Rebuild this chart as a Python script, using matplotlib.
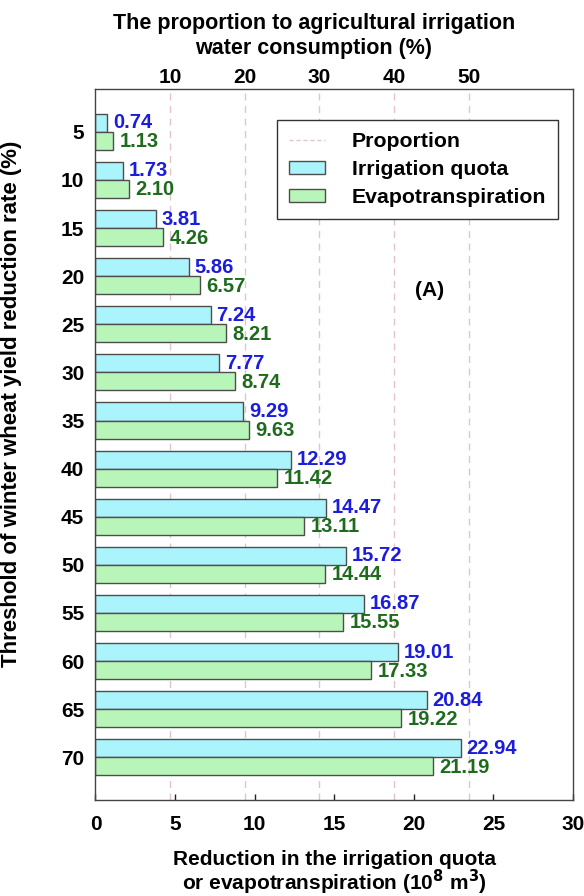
import matplotlib
matplotlib.use("Agg")
import matplotlib.pyplot as plt
from matplotlib.patches import Patch
from matplotlib.lines import Line2D
import numpy as np

plt.rcParams['font.family'] = ['Liberation Sans', 'DejaVu Sans']
plt.rcParams['font.weight'] = 'bold'
plt.rcParams['mathtext.default'] = 'bf'

# Yield-reduction thresholds (%) and water reductions (10^8 m^3)
thresholds = [5, 10, 15, 20, 25, 30, 35, 40, 45, 50, 55, 60, 65, 70]
irrigation_quota = [0.74, 1.73, 3.81, 5.86, 7.24, 7.77, 9.29, 12.29, 14.47,
                    15.72, 16.87, 19.01, 20.84, 22.94]
evapotranspiration = [1.13, 2.10, 4.26, 6.57, 8.21, 8.74, 9.63, 11.42, 13.11,
                      14.44, 15.55, 17.33, 19.22, 21.19]
# Agricultural irrigation water consumption (10^8 m^3) used for the top scale
total_irrigation = 46.9
proportion_ticks = [10, 20, 30, 40, 50]

fig = plt.figure(figsize=(5.84, 8.96), dpi=100)
ax = fig.add_axes([0.1635, 0.107, 0.8176, 0.7936])

idx = np.arange(len(thresholds))
h = 0.375
blue_fill = '#acf4fb'
green_fill = '#b8f5b8'
edge = '#4d4d4d'
dash_color = '#e4c4c9'

ax.barh(idx - h / 2, irrigation_quota, height=h, color=blue_fill,
        edgecolor=edge, linewidth=1.0, zorder=2)
ax.barh(idx + h / 2, evapotranspiration, height=h, color=green_fill,
        edgecolor=edge, linewidth=1.0, zorder=2)

for i, (q, e) in enumerate(zip(irrigation_quota, evapotranspiration)):
    ax.text(q + 0.35, i - h / 2, f"{q:.2f}", color='#1c1cdc', fontsize=14.5,
            fontweight='bold', va='center', ha='left', zorder=3)
    ax.text(e + 0.4, i + h / 2 + 0.02, f"{e:.2f}", color='#1e6b1e', fontsize=14.5,
            fontweight='bold', va='center', ha='left', zorder=3)

# Proportion reference lines
to_amount = lambda p: np.asarray(p) * total_irrigation / 100.0
to_prop = lambda x: np.asarray(x) * 100.0 / total_irrigation
for p in proportion_ticks:
    ax.axvline(to_amount(p), color=dash_color, linestyle=(0, (5, 4)),
               linewidth=1.0, zorder=1)

ax.set_xlim(0, 30)
ax.set_ylim(len(thresholds) - 1 + 0.89, -0.89)
ax.set_yticks(idx)
ax.set_yticklabels([str(t) for t in thresholds])
ax.set_xticks([0, 5, 10, 15, 20, 25, 30])
ax.tick_params(axis='both', direction='in', length=4, width=1, labelsize=15,
               colors='#222222', labelcolor='black')
ax.tick_params(axis='x', pad=11)
ax.tick_params(axis='y', pad=8)
for lab in ax.get_xticklabels() + ax.get_yticklabels():
    lab.set_fontweight('bold')
for s in ax.spines.values():
    s.set_color('#444444')
    s.set_linewidth(1.0)

ax.set_xlabel("Reduction in the irrigation quota\nor evapotranspiration (10$^{8}$ m$^{3}$)",
              fontsize=15, fontweight='bold', linespacing=0.95)
ax.xaxis.set_label_coords(0.5, -0.07)
ax.set_ylabel("Threshold of winter wheat yield reduction rate (%)",
              fontsize=16, fontweight='bold')
ax.yaxis.set_label_coords(-0.153, 0.558)

sec = ax.secondary_xaxis('top', functions=(to_prop, to_amount))
sec.set_xticks(proportion_ticks)
sec.tick_params(axis='x', length=0, labelsize=15, pad=1.5)
sec.spines['top'].set_visible(False)
for lab in sec.get_xticklabels():
    lab.set_fontweight('bold')
sec.set_xlabel("The proportion to agricultural irrigation\nwater consumption (%)",
               fontsize=15.5, fontweight='bold', labelpad=10, linespacing=1.25)
sec.xaxis.label.set_x(0.457)

ax.text(0.70, 0.717, "(A)", transform=ax.transAxes, fontsize=15,
        fontweight='bold', ha='center', va='center')

handles = [Line2D([], [], color=dash_color, linestyle=(0, (3, 2)), linewidth=1.0),
           Patch(facecolor=blue_fill, edgecolor=edge),
           Patch(facecolor=green_fill, edgecolor=edge)]
leg = ax.legend(handles, ["Proportion", "Irrigation quota", "Evapotranspiration"],
                loc='upper right', bbox_to_anchor=(0.9686, 0.956), borderaxespad=0,
                fancybox=False, edgecolor='#333333', framealpha=1,
                prop={'size': 15.3, 'weight': 'bold'},
                handlelength=1.7, handleheight=0.62, labelspacing=0.42,
                borderpad=0.55, handletextpad=1.25)
leg.get_frame().set_linewidth(1.0)

fig.savefig("out.png", dpi=100)
